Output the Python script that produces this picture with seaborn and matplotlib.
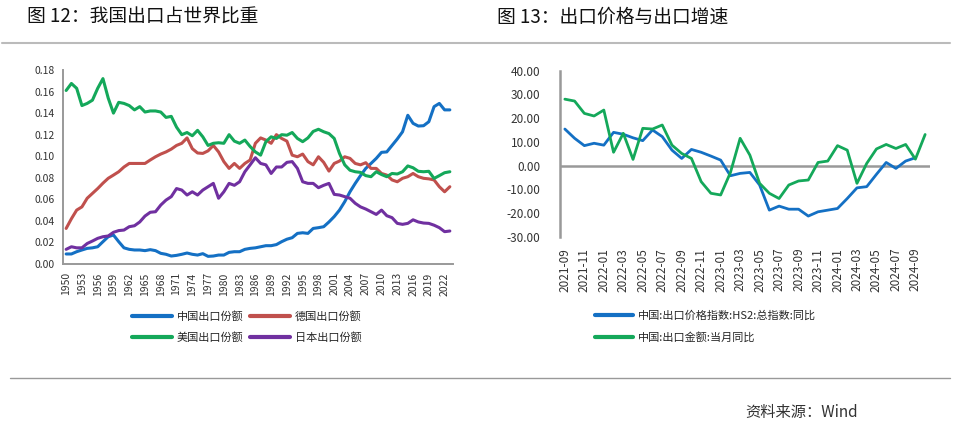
import matplotlib
matplotlib.use("Agg")
import matplotlib.pyplot as plt
from matplotlib.lines import Line2D
import seaborn as sns
import pandas as pd

# ---------------- data ----------------
years = list(range(1950, 2024))
china = [0.0093, 0.0093, 0.0114, 0.013, 0.0145, 0.015, 0.016, 0.0207, 0.0253, 0.0269,
         0.0207, 0.015, 0.0136, 0.013, 0.013, 0.0124, 0.0133, 0.0124, 0.0099, 0.009,
         0.0074, 0.008, 0.009, 0.0102, 0.009, 0.0083, 0.0096, 0.0071, 0.0074, 0.0083,
         0.0083, 0.0108, 0.0114, 0.0114, 0.0136, 0.0145, 0.015, 0.016, 0.017, 0.017,
         0.018, 0.0207, 0.023, 0.0244, 0.0284, 0.029, 0.0284, 0.033, 0.0337, 0.0346,
         0.039, 0.044, 0.050, 0.0578, 0.067, 0.0748, 0.082, 0.0887, 0.0933, 0.098,
         0.1036, 0.104, 0.110, 0.116, 0.1227, 0.138, 0.1305, 0.128, 0.1283, 0.132,
         0.146, 0.149, 0.143, 0.143]
germany = [0.033, 0.042, 0.050, 0.053, 0.061, 0.0655, 0.070, 0.075, 0.0795, 0.0825,
           0.0856, 0.090, 0.0933, 0.0933, 0.0933, 0.0933, 0.0965, 0.0995, 0.102, 0.104,
           0.1066, 0.110, 0.112, 0.117, 0.107, 0.103, 0.1026, 0.105, 0.110, 0.104,
           0.095, 0.0887, 0.0933, 0.0887, 0.0933, 0.0965, 0.112, 0.117, 0.115, 0.112,
           0.120, 0.1165, 0.114, 0.101, 0.0995, 0.102, 0.095, 0.092, 0.0995, 0.0943,
           0.0862, 0.0933, 0.0955, 0.0995, 0.098, 0.0933, 0.092, 0.094, 0.0887, 0.0887,
           0.084, 0.0825, 0.078, 0.0763, 0.0795, 0.081, 0.084, 0.081, 0.0795, 0.079,
           0.078, 0.0717, 0.067, 0.0717]
usa = [0.161, 0.1675, 0.163, 0.147, 0.149, 0.152, 0.163, 0.172, 0.154, 0.140,
       0.150, 0.149, 0.147, 0.143, 0.146, 0.141, 0.142, 0.142, 0.141, 0.136,
       0.137, 0.127, 0.120, 0.122, 0.119, 0.124, 0.118, 0.110, 0.112, 0.1125,
       0.112, 0.120, 0.114, 0.112, 0.115, 0.109, 0.104, 0.101, 0.1135, 0.118,
       0.1165, 0.120, 0.1195, 0.122, 0.1165, 0.1135, 0.117, 0.123, 0.125, 0.1227,
       0.121, 0.1165, 0.1026, 0.092, 0.087, 0.0856, 0.085, 0.082, 0.081, 0.0856,
       0.083, 0.081, 0.084, 0.0835, 0.0856, 0.091, 0.0893, 0.086, 0.0856, 0.086,
       0.0794, 0.082, 0.0847, 0.0856]
japan = [0.0136, 0.016, 0.015, 0.015, 0.019, 0.0213, 0.0238, 0.0253, 0.026, 0.0294,
         0.031, 0.0315, 0.0346, 0.0355, 0.039, 0.0445, 0.048, 0.0485, 0.0547, 0.0593,
         0.0625, 0.070, 0.0686, 0.064, 0.067, 0.064, 0.0686, 0.0717, 0.0748, 0.061,
         0.067, 0.0748, 0.073, 0.0763, 0.0856, 0.092, 0.0986, 0.0933, 0.092, 0.084,
         0.090, 0.090, 0.0943, 0.095, 0.0887, 0.0763, 0.0748, 0.0748, 0.0708, 0.073,
         0.0748, 0.0646, 0.064, 0.0625, 0.061, 0.0563, 0.053, 0.051, 0.0485, 0.046,
         0.050, 0.0448, 0.043, 0.0377, 0.0368, 0.0377, 0.041, 0.039, 0.038, 0.0377,
         0.036, 0.0337, 0.030, 0.0306]
share_labels = ["中国出口份额", "德国出口份额", "美国出口份额", "日本出口份额"]
year_ticks = list(range(1950, 2023, 3))

months = ["2021-09", "2021-10", "2021-11", "2021-12", "2022-01", "2022-02", "2022-03",
          "2022-04", "2022-05", "2022-06", "2022-07", "2022-08", "2022-09", "2022-10",
          "2022-11", "2022-12", "2023-01", "2023-02", "2023-03", "2023-04", "2023-05",
          "2023-06", "2023-07", "2023-08", "2023-09", "2023-10", "2023-11", "2023-12",
          "2024-01", "2024-02", "2024-03", "2024-04", "2024-05", "2024-06", "2024-07",
          "2024-08", "2024-09", "2024-10"]
price_yoy = [15.4, 11.5, 8.4, 9.4, 8.6, 14.0, 13.2, 11.7, 10.5, 15.0, 12.2, 6.5,
             3.0, 6.8, 5.6, 4.0, 2.3, -4.3, -3.3, -2.9, -8.2, -18.8, -17.1, -18.4,
             -18.4, -21.3, -19.5, -18.8, -18.1, -13.9, -9.4, -8.9, -3.7, 1.3, -1.2,
             1.9, 3.3]
export_yoy = [28.0, 27.2, 22.0, 20.9, 23.4, 5.6, 13.6, 2.6, 15.7, 15.4, 17.1, 8.6,
              5.1, 3.0, -6.8, -11.7, -12.4, -3.0, 11.5, 4.4, -7.5, -11.7, -13.9, -8.2,
              -6.5, -6.1, 1.3, 1.9, 8.4, 6.5, -7.5, 0.9, 7.0, 8.9, 7.2, 8.9, 2.7, 13.1]
right_labels = ["中国:出口价格指数:HS2:总指数:同比", "中国:出口金额:当月同比"]

# ---------------- style ----------------
sns.set_style("white")
plt.rcParams["font.family"] = ["Noto Sans CJK SC", "DejaVu Sans"]
plt.rcParams["axes.unicode_minus"] = False

BLUE = "#1470C4"
RED = "#C0504D"
GREEN = "#14A85A"
PURPLE = "#7030A0"
SPINE = "#999999"

W, H = 960, 428
fig = plt.figure(figsize=(9.6, 4.28), dpi=100)


def fx(px):
    return px / W


def fy(py):
    return 1 - py / H


# ---------------- left chart ----------------
axL = fig.add_axes([fx(63), fy(264), fx(453) - fx(63), fy(70) - fy(264)])
dfL = pd.DataFrame({"year": years, share_labels[0]: china, share_labels[1]: germany,
                    share_labels[2]: usa, share_labels[3]: japan})
colorsL = [BLUE, RED, GREEN, PURPLE]
for lab, col in zip(share_labels, colorsL):
    sns.lineplot(data=dfL, x="year", y=lab, ax=axL, color=col, lw=2.2, label=lab,
                 legend=False)
axL.set_xlim(1949.4, 2023.6)
axL.set_ylim(0, 0.18)
axL.set_yticks([i * 0.02 for i in range(10)])
axL.set_yticklabels([f"{i * 0.02:.2f}" for i in range(10)])
axL.set_xticks(year_ticks)
axL.set_xticklabels([str(y) for y in year_ticks], rotation=90)
axL.set_xlabel("")
axL.set_ylabel("")
for s in ["top", "right"]:
    axL.spines[s].set_visible(False)
for s in ["left", "bottom"]:
    axL.spines[s].set_color(SPINE)
    axL.spines[s].set_linewidth(1.4)
axL.tick_params(axis="both", labelsize=7.5, colors=SPINE, labelcolor="#333333",
                length=3, width=1, direction="out", pad=3)

# legend rows: (中国, 德国) / (美国, 日本); matplotlib fills column-wise
order = [0, 2, 1, 3]
handlesL = [Line2D([0], [0], color=colorsL[k], lw=3) for k in order]
labelsL = [share_labels[k] for k in order]
fig.legend(handlesL, labelsL, loc="center", bbox_to_anchor=(fx(247), fy(327)),
           ncol=2, frameon=False, fontsize=8, handlelength=3.6, handletextpad=0.4,
           columnspacing=0.6, labelspacing=1.0, borderpad=0)

# ---------------- right chart ----------------
axR = fig.add_axes([fx(560), fy(236.7), fx(930) - fx(560), fy(70.7) - fy(236.7)])
xi = list(range(len(months)))
dfR1 = pd.DataFrame({"i": xi[:len(price_yoy)], "v": price_yoy})
dfR2 = pd.DataFrame({"i": xi, "v": export_yoy})
axR.axhline(0, color=SPINE, lw=1.8, zorder=1)
sns.lineplot(data=dfR1, x="i", y="v", ax=axR, color=BLUE, lw=2.0)
sns.lineplot(data=dfR2, x="i", y="v", ax=axR, color=GREEN, lw=2.0)
axR.set_xlim(-0.5, len(months) - 0.5)
axR.set_ylim(-30, 40)
yt = list(range(-30, 41, 10))
axR.set_yticks(yt)
axR.set_yticklabels([f"{v:.2f}" for v in yt])
axR.set_xticks(xi[::2])
axR.set_xticklabels(months[::2], rotation=90)
axR.set_xlabel("")
axR.set_ylabel("")
for s in ["top", "right", "bottom"]:
    axR.spines[s].set_visible(False)
axR.spines["left"].set_color(SPINE)
axR.spines["left"].set_linewidth(1.8)
axR.tick_params(axis="y", labelsize=8.5, length=0, pad=14, labelcolor="#333333")
axR.tick_params(axis="x", labelsize=8.5, length=0, pad=8, labelcolor="#333333")

handlesR = [Line2D([0], [0], color=c, lw=3) for c in [BLUE, GREEN]]
fig.legend(handlesR, right_labels, loc="center left",
           bbox_to_anchor=(fx(595), fy(327)), ncol=1, frameon=False, fontsize=8,
           handlelength=3.4, handletextpad=0.5, labelspacing=1.0, borderpad=0,
           borderaxespad=0)

# ---------------- titles, rules, footer ----------------
fig.text(fx(27), fy(17), "图 12：我国出口占世界比重", fontsize=13.5, va="center",
         ha="left", color="#111111")
fig.text(fx(497), fy(17), "图 13：出口价格与出口增速", fontsize=13.5, va="center",
         ha="left", color="#111111")
fig.add_artist(Line2D([fx(2), fx(950)], [fy(43), fy(43)], color="#bbbbbb", lw=1.5))
fig.add_artist(Line2D([fx(10), fx(950)], [fy(378), fy(378)], color="#999999", lw=1.0))
fig.text(fx(745), fy(413), "资料来源：Wind", fontsize=11, va="center", ha="left",
         color="#333333")

fig.savefig("out.png", dpi=100)
